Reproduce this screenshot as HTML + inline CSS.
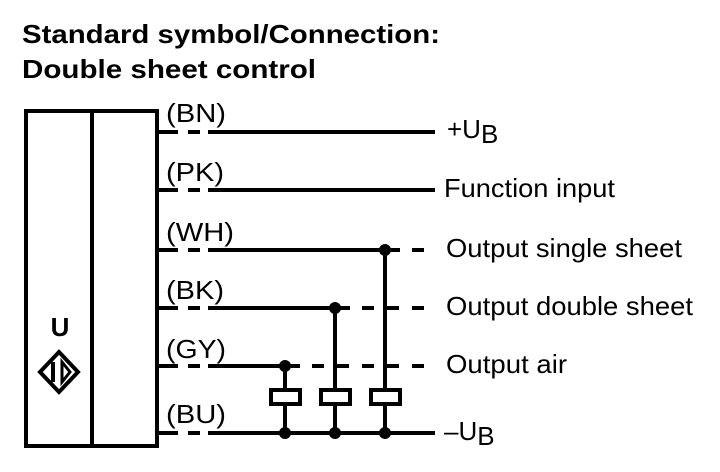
<!DOCTYPE html>
<html><head><style>body{margin:0;background:#fff}svg{display:block}text{font-family:"Liberation Sans",Arial,sans-serif;fill:#000}</style></head>
<body>
<svg width="720" height="472" viewBox="0 0 720 472" xmlns="http://www.w3.org/2000/svg">
<text x="22" y="43" font-size="26" font-weight="bold" textLength="418" lengthAdjust="spacingAndGlyphs">Standard symbol/Connection:</text>
<text x="22" y="78" font-size="26" font-weight="bold" textLength="294" lengthAdjust="spacingAndGlyphs">Double sheet control</text>
<g stroke="#000" stroke-width="4" fill="none">
<rect x="26" y="111" width="131" height="335"/>
<line x1="92" y1="111" x2="92" y2="446"/>
</g>
<text x="60" y="336" font-size="26" font-weight="bold" text-anchor="middle">U</text>
<g stroke="#000" stroke-width="4" fill="none">
<polygon points="59,352 78,372 59,392 40,372"/>
<line x1="53" y1="362" x2="53" y2="382"/>
<polygon points="62,362 70,372 62,382" stroke-width="3"/>
</g>
<g stroke="#000" stroke-width="4">
<line x1="157" y1="132" x2="178" y2="132"/><line x1="188" y1="132" x2="200" y2="132"/><line x1="208" y1="132" x2="435" y2="132"/>
<line x1="157" y1="190" x2="178" y2="190"/><line x1="188" y1="190" x2="200" y2="190"/><line x1="208" y1="190" x2="435" y2="190"/>
<line x1="157" y1="250" x2="178" y2="250"/><line x1="188" y1="250" x2="200" y2="250"/><line x1="208" y1="250" x2="400" y2="250"/>
<line x1="412" y1="250" x2="424" y2="250"/>
<line x1="157" y1="308" x2="178" y2="308"/><line x1="188" y1="308" x2="200" y2="308"/><line x1="208" y1="308" x2="350" y2="308"/>
<line x1="350" y1="308" x2="424" y2="308" stroke-dasharray="12 13" stroke-dashoffset="-12"/>
<line x1="157" y1="366" x2="178" y2="366"/><line x1="188" y1="366" x2="200" y2="366"/><line x1="208" y1="366" x2="300" y2="366"/>
<line x1="300" y1="366" x2="424" y2="366" stroke-dasharray="12 13" stroke-dashoffset="-12"/>
<line x1="157" y1="433" x2="178" y2="433"/><line x1="188" y1="433" x2="200" y2="433"/><line x1="208" y1="433" x2="435" y2="433"/>
<line x1="285" y1="366" x2="285" y2="433"/>
<line x1="335" y1="308" x2="335" y2="433"/>
<line x1="385" y1="250" x2="385" y2="433"/>
</g>
<g stroke="#000" stroke-width="4" fill="#fff">
<rect x="271" y="390" width="29" height="14"/>
<rect x="321" y="390" width="29" height="14"/>
<rect x="371" y="390" width="29" height="14"/>
</g>
<g fill="#000">
<circle cx="385" cy="250" r="6"/><circle cx="335" cy="308" r="6"/><circle cx="285" cy="366" r="6"/>
<circle cx="285" cy="433" r="6"/><circle cx="335" cy="433" r="6"/><circle cx="385" cy="433" r="6"/>
</g>
<g font-size="26">
<text x="166" y="122" textLength="60" lengthAdjust="spacingAndGlyphs">(BN)</text>
<text x="166" y="181" textLength="58" lengthAdjust="spacingAndGlyphs">(PK)</text>
<text x="166" y="241" textLength="68" lengthAdjust="spacingAndGlyphs">(WH)</text>
<text x="166" y="299" textLength="58" lengthAdjust="spacingAndGlyphs">(BK)</text>
<text x="166" y="358" textLength="60" lengthAdjust="spacingAndGlyphs">(GY)</text>
<text x="166" y="423" textLength="60" lengthAdjust="spacingAndGlyphs">(BU)</text>
</g>
<g font-size="26">
<text x="447" y="138">+U<tspan dy="5">B</tspan></text>
<text x="444" y="197" textLength="171" lengthAdjust="spacingAndGlyphs">Function input</text>
<text x="446" y="257" textLength="236" lengthAdjust="spacingAndGlyphs">Output single sheet</text>
<text x="446" y="315" textLength="247" lengthAdjust="spacingAndGlyphs">Output double sheet</text>
<text x="446" y="373" textLength="121" lengthAdjust="spacingAndGlyphs">Output air</text>
<text x="444" y="440">–U<tspan dy="5">B</tspan></text>
</g>
</svg>
</body></html>
